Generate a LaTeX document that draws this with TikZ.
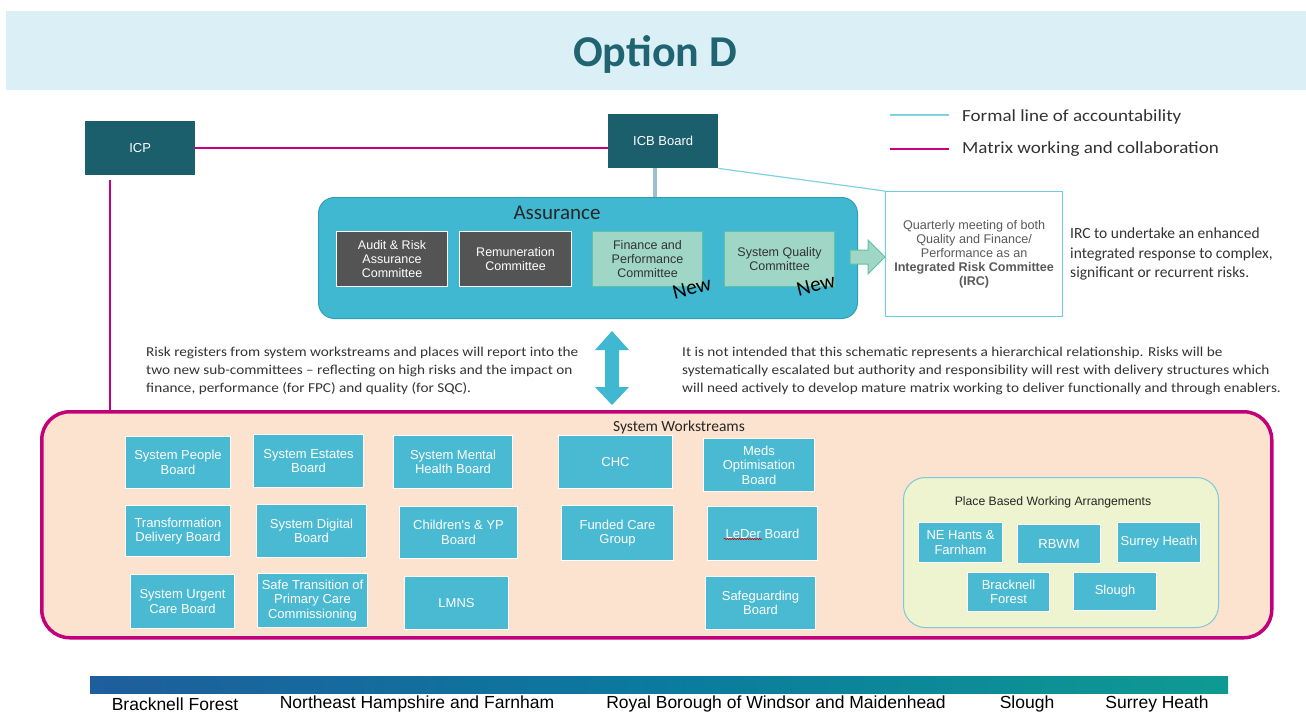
\documentclass[tikz,border=0pt]{standalone}
\usepackage{fontspec}
\setmainfont{Carlito}
\newfontfamily\arialf{Liberation Sans}
\newfontfamily\widef[FakeStretch=1.12,Ligatures=TeX]{Carlito}
\usetikzlibrary{calc,decorations.pathmorphing}

\definecolor{bandbg}{HTML}{DAEFF6}
\definecolor{titletxt}{HTML}{1F6470}
\definecolor{darkteal}{HTML}{1B5F6D}
\definecolor{assurfill}{HTML}{41B8D2}
\definecolor{assurdraw}{HTML}{2E9FB9}
\definecolor{greybox}{HTML}{545454}
\definecolor{mintfill}{HTML}{9FD6C6}
\definecolor{mintdraw}{HTML}{5EC2A8}
\definecolor{ircdraw}{HTML}{6ACFE0}
\definecolor{wsfill}{HTML}{FCE3CF}
\definecolor{wsdraw}{HTML}{C2007A}
\definecolor{boxfill}{HTML}{4ABAD3}
\definecolor{placefill}{HTML}{EEF4D0}
\definecolor{placedraw}{HTML}{7EC8D8}
\definecolor{formalc}{HTML}{7DD3E0}
\definecolor{matrixc}{HTML}{C8007F}
\definecolor{govc}{HTML}{9CBFCB}
\definecolor{bodytxt}{HTML}{333333}
\definecolor{irctxt}{HTML}{5A5A5A}
\definecolor{barleft}{HTML}{1E5E9C}
\definecolor{barmid}{HTML}{0B7A9E}
\definecolor{barright}{HTML}{0E9A92}

\tikzset{
  pbox/.style={anchor=north west, inner sep=0pt, align=center},
  tealbox/.style={pbox, fill=darkteal, text=white, font=\arialf\fontsize{13}{15}\selectfont},
  greycom/.style={pbox, fill=greybox, draw=white, line width=1pt, text=white, font=\arialf\fontsize{12.5}{14}\selectfont},
  mintcom/.style={pbox, fill=mintfill, draw=mintdraw, line width=1pt, text=black!80, font=\arialf\fontsize{12.5}{14}\selectfont},
  wsbox/.style={pbox, fill=boxfill, draw=white, line width=1pt, text=white, font=\arialf\fontsize{13}{14.5}\selectfont},
  plbox/.style={pbox, fill=boxfill, draw=white, line width=1pt, text=white, font=\arialf\fontsize{13}{14.5}\selectfont},
  matrixline/.style={draw=matrixc, line width=2pt},
  formalline/.style={draw=formalc, line width=1.2pt},
  newtag/.style={font=\fontsize{21}{21}\selectfont, rotate=14, text=black},
  para/.style={anchor=north west, align=left, inner sep=0pt, text=bodytxt, font=\widef\fontsize{13.6}{18}\selectfont},
  legendtxt/.style={anchor=west, inner sep=0pt, text=bodytxt, font=\widef\fontsize{17}{19}\selectfont},
  region/.style={anchor=center, inner sep=0pt, font=\arialf\fontsize{17.5}{18}\selectfont, text=black}
}

\begin{document}
\begin{tikzpicture}[x=1pt,y=-1pt]
\useasboundingbox (0,0) rectangle (1306,716);
\fill[white] (0,0) rectangle (1306,716);

% title band
\fill[bandbg] (6,11) rectangle (1306,90);
\node[font=\bfseries\fontsize{44}{44}\selectfont, text=titletxt] (title) at (655,54) {Option D};

% legend
\coordinate (lfa) at (890,115);
\coordinate (lfb) at (949,115);
\coordinate (lma) at (890,149);
\coordinate (lmb) at (949,149);
\draw[formalline] (lfa) -- (lfb);
\draw[matrixline] (lma) -- (lmb);
\node[legendtxt] (lgf) at (962,117) {Formal line of accountability};
\node[legendtxt] (lgm) at (962,149) {Matrix working and collaboration};

% top governance boxes
\node[tealbox, minimum width=110, minimum height=54] (icp) at (85,121) {ICP};
\node[tealbox, minimum width=110, minimum height=54] (icb) at (608,114) {ICB Board};

% assurance group
\node[anchor=north west, fill=assurfill, draw=assurdraw, line width=1pt, rounded corners=16,
      minimum width=539, minimum height=121, inner sep=0pt] (assur) at (318,197) {};
\node[font=\fontsize{21}{21}\selectfont, text=black!85] (assurlbl) at (557,213) {Assurance};
\node[greycom, minimum width=111, minimum height=55] (arac) at (336,231) {Audit \& Risk\\Assurance\\Committee};
\node[greycom, minimum width=112, minimum height=55] (remc) at (459,231) {Remuneration\\Committee};
\node[mintcom, minimum width=110, minimum height=55] (fpc) at (592,231) {Finance and\\Performance\\Committee};
\node[mintcom, minimum width=110, minimum height=55] (sqc) at (724,231) {System Quality\\Committee};
\node[newtag] (newa) at (692,288) {New};
\node[newtag] (newb) at (816,285) {New};

% integrated risk committee
\node[anchor=north west, draw=ircdraw, line width=1.2pt, fill=white, minimum width=177, minimum height=125,
      inner sep=0pt, align=center, text=irctxt, font=\arialf\fontsize{12.6}{14}\selectfont] (irc) at (885,191)
  {Quarterly meeting of both\\Quality and Finance/\\Performance as an\\\textbf{Integrated Risk Committee}\\\textbf{(IRC)}};
\node[anchor=north west, inner sep=0pt, align=left, text=bodytxt, font=\fontsize{15.5}{19.5}\selectfont] (irctext) at (1070,228)
  {IRC to undertake an enhanced\\integrated response to complex,\\significant or recurrent risks.};

% arrow from assurance into the IRC
\filldraw[fill=mintfill, draw=mintdraw, line width=1pt]
  (850,250) -- (868,250) -- (868,240) -- (irc.west |- 0,257) -- (868,274) -- (868,264) -- (850,264) -- cycle;

% connectors
\draw[matrixline] (icp.east) -- (icp.east -| icb.west);
\coordinate (icpdrop) at (110,180);
\draw[govc, line width=4pt] ([xshift=-8pt]icb.south) -- ([xshift=-8pt]icb.south |- assur.north);
\draw[formalline] (icb.south east) -- (irc.north west);

% explanatory text
\node[para] (leftnote) at (146,347)
  {Risk registers from system workstreams and places will report into the\\
   two new sub-committees – reflecting on high risks and the impact on\\
   finance, performance (for FPC) and quality (for SQC).};
\node[para] (rightnote) at (682,347)
  {It is not intended that this schematic represents a hierarchical relationship. Risks will be\\
   systematically escalated but authority and responsibility will rest with delivery structures which\\
   will need actively to develop mature matrix working to deliver functionally and through enablers.};

% system workstreams container
\node[anchor=north west, fill=wsfill, draw=wsdraw, line width=3.5pt, rounded corners=28,
      minimum width=1230, minimum height=226, inner sep=0pt] (ws) at (40,410) {};
\draw[matrixline] (icpdrop) -- (icpdrop |- ws.north);
\node[font=\fontsize{15.5}{16}\selectfont, text=black!85] (wslbl) at (679,427) {System Workstreams};

% two-way arrow between workstreams and assurance
\fill[assurfill] (612,331) -- (629,350) -- (619,350) -- (619,387) -- (629,387) -- (612,405)
  -- (595,387) -- (605,387) -- (605,350) -- (595,350) -- cycle;

% workstream boards
\node[wsbox, minimum width=105, minimum height=52] (spb) at (125,436) {System People\\Board};
\node[wsbox, minimum width=105, minimum height=51] (tdb) at (125,505) {Transformation\\Delivery Board};
\node[wsbox, minimum width=104, minimum height=54] (sucb) at (130,574) {System Urgent\\Care Board};
\node[wsbox, minimum width=110, minimum height=53] (seb) at (253,434) {System Estates\\Board};
\node[wsbox, minimum width=110, minimum height=53] (sdb) at (256,504) {System Digital\\Board};
\node[wsbox, minimum width=110, minimum height=54] (stpc) at (257,573) {Safe Transition of\\Primary Care\\Commissioning};
\node[wsbox, minimum width=119, minimum height=53] (smhb) at (393,435) {System Mental\\Health Board};
\node[wsbox, minimum width=118, minimum height=52] (cyp) at (399,506) {Children's \& YP\\Board};
\node[wsbox, minimum width=104, minimum height=53] (lmns) at (404,576) {LMNS};
\node[wsbox, minimum width=114, minimum height=53] (chc) at (558,435) {CHC};
\node[wsbox, minimum width=112, minimum height=55] (fcg) at (561,505) {Funded Care\\Group};
\node[wsbox, minimum width=111, minimum height=53] (meds) at (703,438) {Meds\\Optimisation\\Board};
\node[wsbox, minimum width=110, minimum height=54] (leder) at (707,506) {LeDer Board};
\draw[red!80!black, line width=0.5pt, decorate, decoration={snake, amplitude=0.8pt, segment length=2.5pt}]
  (724,539) -- (762,539);
\node[wsbox, minimum width=110, minimum height=53] (safe) at (705,576) {Safeguarding\\Board};

% place based working arrangements
\node[anchor=north west, fill=placefill, draw=placedraw, line width=1pt, rounded corners=22,
      minimum width=315, minimum height=150, inner sep=0pt] (place) at (903,477) {};
\node[font=\arialf\fontsize{12.2}{13}\selectfont, text=black!85] (placelbl) at (1053,502) {Place Based Working Arrangements};
\node[plbox, minimum width=84, minimum height=40] (neh) at (918,522) {NE Hants \&\\Farnham};
\node[plbox, minimum width=83, minimum height=39] (rbwm) at (1017,524) {RBWM};
\node[plbox, minimum width=83, minimum height=40] (sh) at (1117,522) {Surrey Heath};
\node[plbox, minimum width=82, minimum height=39] (bf) at (967,572) {Bracknell\\Forest};
\node[plbox, minimum width=83, minimum height=38] (sl) at (1073,572) {Slough};

% footer bar with place names
\shade[left color=barleft, right color=barright, middle color=barmid] (90,676) rectangle (1228,693);
\node[region] (rbf) at (175,704) {Bracknell Forest};
\node[region] (rneh) at (417,704) {Northeast Hampshire and Farnham};
\node[region] (rrbwm) at (776,704) {Royal Borough of Windsor and Maidenhead};
\node[region] (rsl) at (1027,704) {Slough};
\node[region] (rsh) at (1157,704) {Surrey Heath};
\end{tikzpicture}
\end{document}
